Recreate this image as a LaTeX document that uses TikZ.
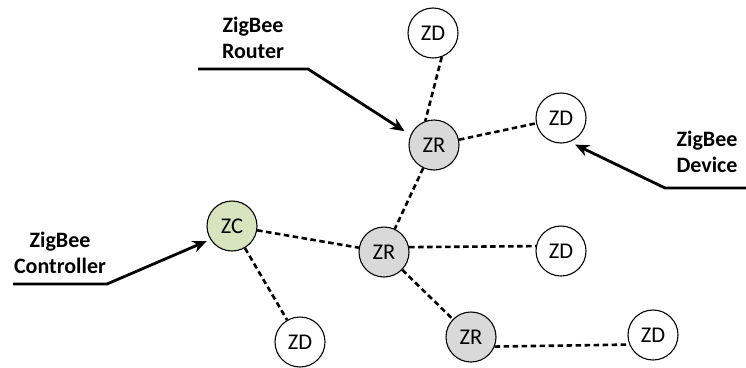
\documentclass[tikz,border=0pt]{standalone}
\usepackage{fontspec}
\setmainfont{Carlito}
\usepackage{xcolor}
\usepackage{tikz}
\usetikzlibrary{arrows.meta}
\definecolor{ink}{HTML}{000000}
\definecolor{rgray}{HTML}{D9D9D9}
\definecolor{cgreen}{HTML}{D7E4BD}
\tikzset{
  dev/.style={circle, draw=ink, line width=1.1pt, fill=white, minimum size=50pt, inner sep=0pt, font=\fontsize{22.5}{26}\selectfont},
  rtr/.style={dev, fill=rgray},
  ctl/.style={dev, fill=cgreen},
  link/.style={draw=ink, line width=2.6pt, dash pattern=on 5.5pt off 3.5pt},
  call/.style={draw=ink, line width=2.8pt, line join=miter, -{Stealth[length=14pt,width=12pt]}},
  lab/.style={align=center, font=\bfseries\fontsize{22}{26}\selectfont},
}
\begin{document}
\begin{tikzpicture}[x=1pt,y=-1pt]
  \useasboundingbox (0,0) rectangle (746,367);

  % network nodes
  \node[dev] (ZD1) at (433,33)  {ZD};
  \node[rtr] (ZR1) at (434,145) {ZR};
  \node[dev] (ZD2) at (561,118) {ZD};
  \node[ctl] (ZC)  at (232,226) {ZC};
  \node[rtr] (ZR2) at (384,252) {ZR};
  \node[dev] (ZD3) at (561,251) {ZD};
  \node[dev] (ZD4) at (300,342) {ZD};
  \node[rtr] (ZR3) at (471,337) {ZR};
  \node[dev] (ZD5) at (653,335) {ZD};

  % dashed links
  \draw[link] (ZD1.-70) -- (ZR1.110);
  \draw[link] (ZR1) -- (ZD2);
  \draw[link] (ZR1) -- (ZR2);
  \draw[link] (ZC) -- (ZR2);
  \draw[link] (ZC) -- (ZD4);
  \draw[link] (ZR2.11) -- (ZD3.169);
  \draw[link] (ZR2) -- (ZR3);
  \draw[link] (ZR3.-22) -- (ZD5.-158);

  % callouts
  \node[lab] (lrtr) at (253,38)  {ZigBee\\Router};
  \node[lab] (lctl) at (60,253)  {ZigBee\\Controller};
  \node[lab] (ldev) at (707,152) {ZigBee\\Device};
  \coordinate (r0) at (198,69);
  \coordinate (c0) at (13,284);
  \coordinate (d0) at (746,188);
  \draw[call, shorten >=7pt] (r0) -- (308,69) -- (ZR1.157);
  \draw[call, shorten >=4pt] (c0) -- (107,284) -- (ZC.212);
  \draw[call, shorten >=6pt] (d0) -- (665,188) -- (ZD2.-70);
\end{tikzpicture}
\end{document}
